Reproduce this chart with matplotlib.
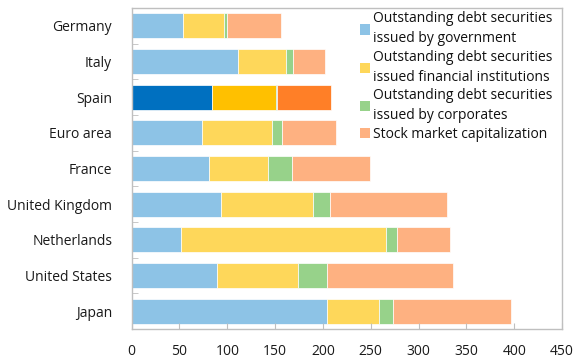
#!/usr/bin/env python
# -*- coding: utf8 -*-
"""Stacked bars: debt securities and stock market capitalization by country"""

import numpy as np
import matplotlib.pyplot as plt
from matplotlib.patches import Patch

countries = ["Germany", "Italy", "Spain", "Euro area", "France",
             "United Kingdom", "Netherlands", "United States", "Japan"]
government = [53.6, 111.0, 84.0, 73.5, 80.8, 93.4, 51.9, 89.2, 204.2]
financial = [42.9, 50.3, 66.5, 73.2, 61.4, 96.2, 214.0, 84.7, 54.0]
corporates = [3.5, 7.7, 1.5, 10.3, 25.4, 17.8, 11.8, 30.0, 15.0]
stock_market = [56.4, 33.4, 56.4, 57.0, 81.2, 121.9, 55.1, 132.1, 123.0]

labels = ["Outstanding debt securities\nissued by government",
          "Outstanding debt securities\nissued financial institutions",
          "Outstanding debt securities\nissued by corporates",
          "Stock market capitalization"]
light = ["#8DC3E6", "#FED75A", "#97D28A", "#FEB181"]
strong = ["#0070C0", "#FFC000", "#00B050", "#FF7F27"]
highlight = "Spain"


def main() -> None:
    """Do the job"""
    plt.rcParams['font.family'] = ['Open Sans', 'DejaVu Sans']
    fig = plt.figure(figsize=(5.74, 3.6), dpi=100)
    ax = fig.add_axes([0.2294, 0.0861, 0.7497, 0.8917])

    series = [government, financial, corporates, stock_market]
    y = np.arange(len(countries))
    left = np.zeros(len(countries))
    for k, values in enumerate(series):
        colors = [strong[k] if c == highlight else light[k] for c in countries]
        ax.barh(y, values, left=left, height=0.7, color=colors,
                edgecolor="white", linewidth=0.5)
        left += np.array(values)

    ax.set_xlim(0, 450)
    ax.set_ylim(len(countries) - 0.5, -0.5)
    ax.set_xticks(np.arange(0, 451, 50))
    ax.set_yticks(y)
    ax.set_yticklabels(countries)
    ax.set_yticks(np.arange(-0.5, len(countries), 1), minor=True)
    ax.tick_params(axis="y", which="major", length=0, pad=14, labelsize=10,
                   labelcolor="#1A1A1A")
    ax.tick_params(axis="y", which="minor", direction="in", length=4,
                   color="#BFBFBF")
    ax.tick_params(axis="x", direction="in", length=4, color="#BFBFBF",
                   pad=11, labelsize=10, labelcolor="#1A1A1A")
    for spine in ax.spines.values():
        spine.set_color("#BFBFBF")
        spine.set_linewidth(1.0)

    handles = [Patch(facecolor=c) for c in light]
    leg = ax.legend(handles, labels, loc="upper right",
                    bbox_to_anchor=(1.0, 1.02), frameon=False, fontsize=10,
                    handlelength=0.75, handleheight=0.75, handletextpad=0.2,
                    labelspacing=0.25, borderaxespad=0.3)
    for text in leg.get_texts():
        text.set_color("#111111")
        text.set_linespacing(1.45)

    fig.savefig("out.png", dpi=100)


if __name__ == "__main__":
    main()
